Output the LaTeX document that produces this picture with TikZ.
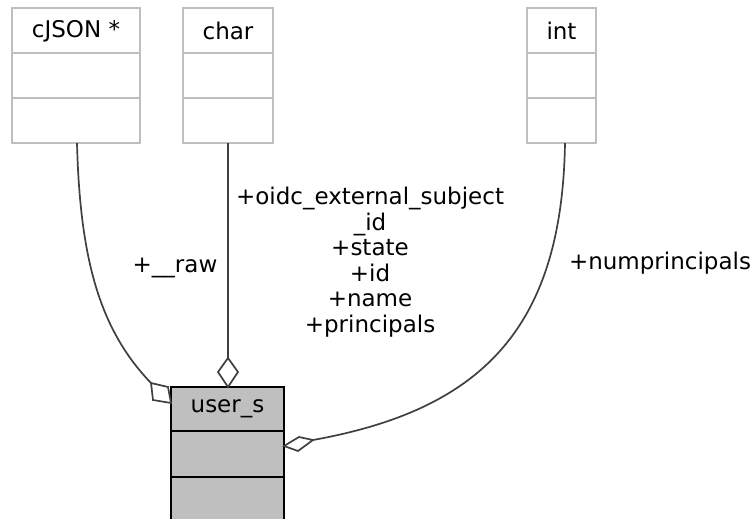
\documentclass[tikz,border=0pt]{standalone}
\usepackage{fontspec}
\setmainfont{DejaVu Sans}
\usetikzlibrary{positioning}
\definecolor{edgegray}{HTML}{404040}
\definecolor{boxgray}{HTML}{BFBFBF}
\begin{document}
\begin{tikzpicture}[x=1pt,y=-1pt,
  lbl/.style={font=\fontsize{23}{25.5}\selectfont, inner sep=0pt, align=center},
  typebox/.style={draw=boxgray, line width=1.8pt, fill=white},
  mainbox/.style={draw=black, line width=1.8pt, fill=boxgray},
  link/.style={draw=edgegray, line width=1.7pt},
  agg/.style={draw=edgegray, line width=1.7pt, fill=white}]
\useasboundingbox (0,0) rectangle (753,519);

% referenced types
\draw[typebox] (12,8) rectangle (140,143);
\draw[boxgray, line width=1.8pt] (12,53) -- (140,53) (12,98) -- (140,98);
\node[lbl] (cjson) at (76,31) {cJSON *};

\draw[typebox] (183,8) rectangle (273,143);
\draw[boxgray, line width=1.8pt] (183,53) -- (273,53) (183,98) -- (273,98);
\node[lbl] (char) at (228,31) {char};

\draw[typebox] (527,8) rectangle (596,143);
\draw[boxgray, line width=1.8pt] (527,53) -- (596,53) (527,98) -- (596,98);
\node[lbl] (int) at (561.5,31) {int};

% the struct itself
\draw[mainbox] (171,387) rectangle (284,522);
\draw[black, line width=1.8pt] (171,431) -- (284,431) (171,477) -- (284,477);
\node[lbl] (user) at (227.5,409) {user\_s};

% anchor points of the connectors
\coordinate (cjsonbot) at (77,143);
\coordinate (charbot) at (228,143);
\coordinate (intbot) at (565,143);
\coordinate (d1) at (151,383);
\coordinate (d2) at (228,358);
\coordinate (d3) at (313,440);

% member relations
\draw[link] (cjsonbot) .. controls (80,260) and (100,330) .. (d1);
\draw[agg] (d1) -- (168,387) -- (171,403) -- (153,400) -- cycle;
\draw[link] (charbot) -- (d2);
\draw[agg] (d2) -- (238,372) -- (228,387) -- (218,372) -- cycle;
\draw[link] (intbot) .. controls (562,330) and (480,410) .. (d3);
\draw[agg] (d3) -- (299,437) -- (284,446) -- (298,451) -- cycle;

% labels
\node[lbl] (l1) at (175,268) {+\_\_raw};
\node[lbl] (l2) at (370,262) {+oidc\_external\_subject\\\_id\\+state\\+id\\+name\\+principals};
\node[lbl] (l3) at (660,263) {+numprincipals};
\end{tikzpicture}
\end{document}
